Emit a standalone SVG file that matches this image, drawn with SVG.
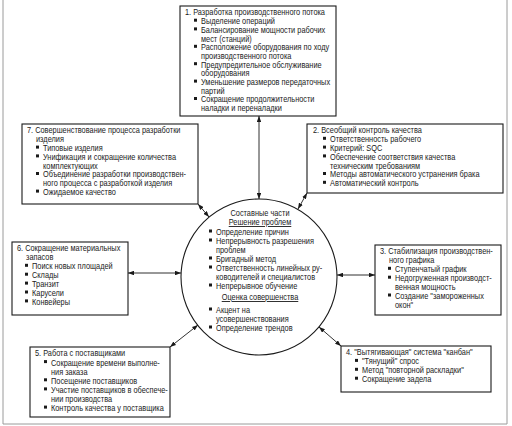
<svg xmlns="http://www.w3.org/2000/svg" width="512" height="426" viewBox="0 0 512 426">
<style>
text{font-family:"Liberation Sans",Arial,sans-serif;font-size:9px;fill:#1a1a1a}
.box{fill:#fff;stroke:#1a1a1a;stroke-width:1.1}
.frame{stroke:#9a9a9a;stroke-width:1;fill:none}
.con{stroke:#1a1a1a;stroke-width:0.9;fill:none;marker-start:url(#ah);marker-end:url(#ah)}
.c{text-anchor:middle}
.u{text-decoration:underline}
</style>
<defs>
<marker id="ah" viewBox="0 0 8 6" refX="8" refY="3" markerWidth="6" markerHeight="4.5" markerUnits="userSpaceOnUse" orient="auto-start-reverse"><path d="M0,0 L8,3 L0,6 z" fill="#1a1a1a"/></marker>
<rect id="b" width="3" height="3" fill="#1a1a1a"/>
</defs>
<rect width="512" height="426" fill="#fff"/>
<g id="frame"><path class="frame" d="M3,0 V424 H507 V0"/></g>

<g id="connectors">
<line class="con" x1="259" y1="116" x2="259" y2="199"/>
<line class="con" x1="198" y1="204" x2="209" y2="217"/>
<line class="con" x1="307" y1="193" x2="298" y2="209"/>
<line class="con" x1="128" y1="273" x2="181" y2="273"/>
<line class="con" x1="337" y1="275" x2="375" y2="275"/>
<line class="con" x1="170" y1="347" x2="198" y2="325"/>
<line class="con" x1="319" y1="327" x2="341" y2="346"/>
</g>

<g id="n1">
<rect class="box" x="180" y="6" width="156" height="110"/>
<text transform="matrix(0.82 0 0 1 33.3 0)"><tspan x="185" y="15.5">1. Разработка производственного потока</tspan>
<tspan x="204.5" y="24.2">Выделение операций</tspan>
<tspan x="204.5" y="32.9">Балансирование мощности рабочих</tspan>
<tspan x="204.5" y="41.6">мест (станций)</tspan>
<tspan x="204.5" y="50.3">Расположение оборудования по ходу</tspan>
<tspan x="204.5" y="59">производственного потока</tspan>
<tspan x="204.5" y="67.7">Предупредительное обслуживание</tspan>
<tspan x="204.5" y="76.4">оборудования</tspan>
<tspan x="204.5" y="85.1">Уменьшение размеров передаточных</tspan>
<tspan x="204.5" y="93.8">партий</tspan>
<tspan x="204.5" y="102.5">Сокращение продолжительности</tspan>
<tspan x="204.5" y="111.2">наладки и переналадки</tspan></text>
<use href="#b" x="194" y="18.7"/><use href="#b" x="194" y="27.4"/><use href="#b" x="194" y="44.8"/><use href="#b" x="194" y="62.2"/><use href="#b" x="194" y="79.6"/><use href="#b" x="194" y="97"/>
</g>

<g id="n7">
<rect class="box" x="22" y="124" width="176" height="80"/>
<text transform="matrix(0.82 0 0 1 4.86 0)"><tspan x="27" y="133.5">7. Совершенствование процесса разработки</tspan>
<tspan x="38" y="142.3">изделия</tspan>
<tspan x="46.5" y="151.1">Типовые изделия</tspan>
<tspan x="46.5" y="159.9">Унификация и сокращение количества</tspan>
<tspan x="46.5" y="168.7">комплектующих</tspan>
<tspan x="46.5" y="177.5">Объединение разработки производствен-</tspan>
<tspan x="46.5" y="186.3">ного процесса с разработкой изделия</tspan>
<tspan x="46.5" y="195.1">Ожидаемое качество</tspan></text>
<use href="#b" x="36" y="145.6"/><use href="#b" x="36" y="154.4"/><use href="#b" x="36" y="172"/><use href="#b" x="36" y="189.6"/>
</g>

<g id="n2">
<rect class="box" x="307" y="124" width="196" height="69"/>
<text transform="matrix(0.82 0 0 1 56.34 0)"><tspan x="313" y="133.5">2. Всеобщий контроль качества</tspan>
<tspan x="333.7" y="142.3">Ответственность рабочего</tspan>
<tspan x="333.7" y="151.1">Критерий: SQC</tspan>
<tspan x="333.7" y="159.9">Обеспечение соответствия качества</tspan>
<tspan x="333.7" y="168.7">техническим требованиям</tspan>
<tspan x="333.7" y="177.5">Методы автоматического устранения брака</tspan>
<tspan x="333.7" y="186.3">Автоматический контроль</tspan></text>
<use href="#b" x="323" y="136.8"/><use href="#b" x="323" y="145.6"/><use href="#b" x="323" y="154.4"/><use href="#b" x="323" y="172"/><use href="#b" x="323" y="180.8"/>
</g>

<g id="center">
<circle cx="259" cy="277" r="78" fill="#fff" stroke="#1a1a1a" stroke-width="1.1"/>
<g transform="matrix(0.82 0 0 1 46.8 0)">
<text class="c" x="260" y="216">Составные части</text>
<text class="c u" x="260" y="225">Решение проблем</text>
<text class="c u" x="260" y="300">Оценка совершенства</text>
</g>
<g transform="matrix(0.82 0 0 1 38.88 0)">
<text><tspan x="216" y="235">Определение причин</tspan>
<tspan x="216" y="244">Непрерывность разрешения</tspan>
<tspan x="216" y="253">проблем</tspan>
<tspan x="216" y="262">Бригадный метод</tspan>
<tspan x="216" y="271">Ответственность линейных ру-</tspan>
<tspan x="216" y="280">ководителей и специалистов</tspan>
<tspan x="216" y="289">Непрерывное обучение</tspan></text>
<text><tspan x="216" y="313">Акцент на</tspan>
<tspan x="216" y="322">усовершенствования</tspan>
<tspan x="216" y="331">Определение трендов</tspan></text>
</g>
<use href="#b" x="209" y="229.5"/><use href="#b" x="209" y="238.5"/><use href="#b" x="209" y="256.5"/><use href="#b" x="209" y="265.5"/><use href="#b" x="209" y="283.5"/><use href="#b" x="209" y="307.5"/><use href="#b" x="209" y="325.5"/>
</g>

<g id="n6">
<rect class="box" x="12" y="242" width="116" height="73"/>
<text transform="matrix(0.82 0 0 1 3.06 0)"><tspan x="17" y="251.5">6. Сокращение материальных</tspan>
<tspan x="28" y="260.4">запасов</tspan>
<tspan x="35.3" y="269.3">Поиск новых площадей</tspan>
<tspan x="35.3" y="278.2">Склады</tspan>
<tspan x="35.3" y="287.1">Транзит</tspan>
<tspan x="35.3" y="296">Карусели</tspan>
<tspan x="35.3" y="304.9">Конвейеры</tspan></text>
<use href="#b" x="25" y="263.8"/><use href="#b" x="25" y="272.7"/><use href="#b" x="25" y="281.6"/><use href="#b" x="25" y="290.5"/><use href="#b" x="25" y="299.4"/>
</g>

<g id="n3">
<rect class="box" x="375" y="245" width="126" height="70"/>
<text transform="matrix(0.82 0 0 1 68.4 0)"><tspan x="380" y="254.5">3. Стабилизация производствен-</tspan>
<tspan x="391" y="263.4">ного графика</tspan>
<tspan x="398.3" y="272.3">Ступенчатый график</tspan>
<tspan x="398.3" y="281.2">Недогруженная производст-</tspan>
<tspan x="398.3" y="290.1">венная мощность</tspan>
<tspan x="398.3" y="299">Создание "замороженных</tspan>
<tspan x="398.3" y="307.9">окон"</tspan></text>
<use href="#b" x="388" y="266.8"/><use href="#b" x="388" y="275.7"/><use href="#b" x="388" y="293.5"/>
</g>

<g id="n5">
<rect class="box" x="30" y="347" width="140" height="70"/>
<text transform="matrix(0.82 0 0 1 6.3 0)"><tspan x="35" y="356.5">5. Работа с поставщиками</tspan>
<tspan x="54.5" y="365.6">Сокращение времени выполне-</tspan>
<tspan x="54.5" y="374.7">ния заказа</tspan>
<tspan x="54.5" y="383.8">Посещение поставщиков</tspan>
<tspan x="54.5" y="392.9">Участие поставщиков в обеспече-</tspan>
<tspan x="54.5" y="402">нии производства</tspan>
<tspan x="54.5" y="411.1">Контроль качества у поставщика</tspan></text>
<use href="#b" x="44" y="360.1"/><use href="#b" x="44" y="378.3"/><use href="#b" x="44" y="387.4"/><use href="#b" x="44" y="405.6"/>
</g>

<g id="n4">
<rect class="box" x="341" y="346" width="150" height="46"/>
<text transform="matrix(0.82 0 0 1 62.28 0)"><tspan x="346" y="355.5">4. "Вытягивающая" система "канбан"</tspan>
<tspan x="365.5" y="364.4">"Тянущий" спрос</tspan>
<tspan x="365.5" y="373.3">Метод "повторной раскладки"</tspan>
<tspan x="365.5" y="382.2">Сокращение задела</tspan></text>
<use href="#b" x="355" y="358.9"/><use href="#b" x="355" y="367.8"/><use href="#b" x="355" y="376.7"/>
</g>
</svg>
